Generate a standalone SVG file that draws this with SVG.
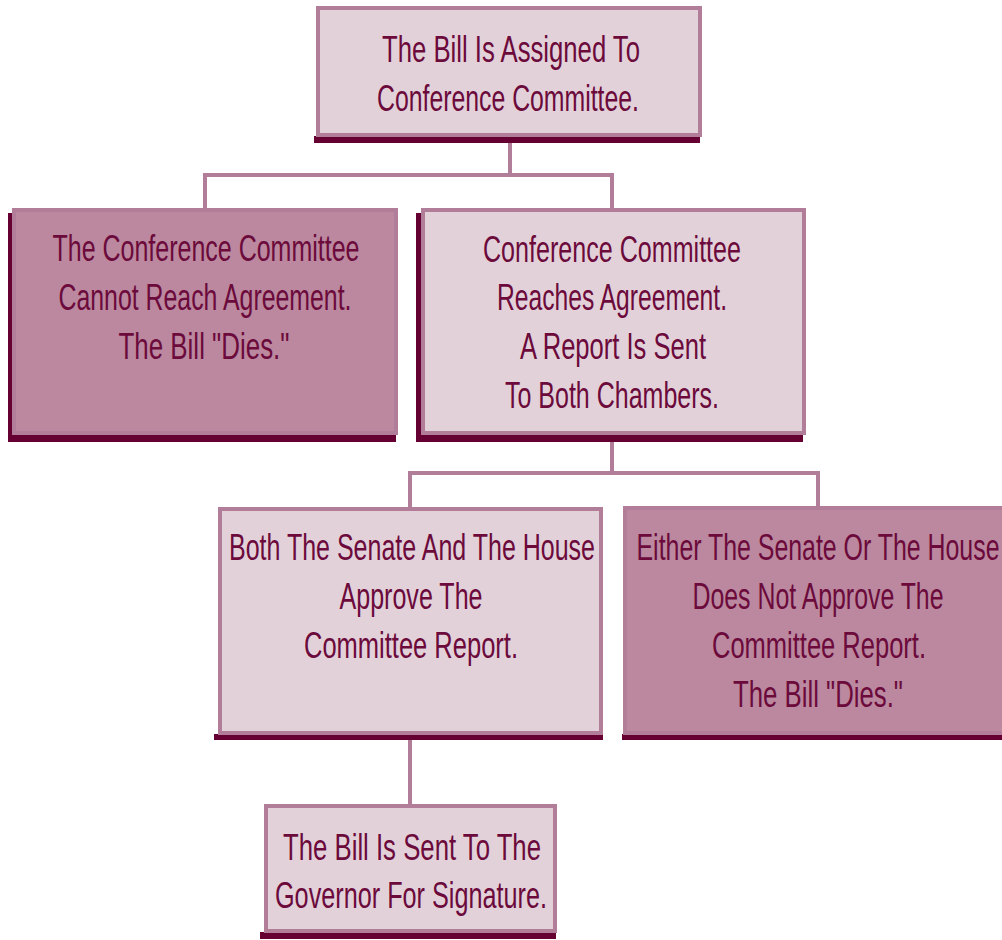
<svg xmlns="http://www.w3.org/2000/svg" width="1002" height="940" viewBox="0 0 1002 940">
<style>
.box-light{fill:#e3d1da;stroke:#b27d98;stroke-width:4}
.box-dark{fill:#bb889f;stroke:#b27d98;stroke-width:4}
.shadow{fill:#660033}
.conn{fill:none;stroke:#b27d98;stroke-width:4}
text{font-family:"Liberation Sans",Arial,sans-serif;font-size:37px;fill:#6b0a3b;text-anchor:middle}
</style>
<rect width="1002" height="940" fill="#ffffff"/>
<g id="connectors">
<path class="conn" d="M510 137 V175 M205 208 V175 H612 V208"/>
<path class="conn" d="M612 437 V473 M410 507 V473 H818 V506"/>
<path class="conn" d="M410 740 V805"/>
</g>
<g id="node-assigned">
<rect class="shadow" x="314" y="136" width="386" height="7"/>
<rect class="box-light" x="318" y="8" width="382" height="127"/>
<text x="511" y="62" textLength="258" lengthAdjust="spacingAndGlyphs">The Bill Is Assigned To</text>
<text x="508" y="111" textLength="262" lengthAdjust="spacingAndGlyphs">Conference Committee.</text>
</g>
<g id="node-no-agreement">
<rect class="shadow" x="8" y="213" width="388" height="229"/>
<rect class="box-dark" x="14" y="210" width="382" height="223"/>
<text x="206" y="261" textLength="307" lengthAdjust="spacingAndGlyphs">The Conference Committee</text>
<text x="205" y="310" textLength="293" lengthAdjust="spacingAndGlyphs">Cannot Reach Agreement.</text>
<text x="204" y="359" textLength="171" lengthAdjust="spacingAndGlyphs">The Bill "Dies."</text>
</g>
<g id="node-agreement">
<rect class="shadow" x="416" y="213" width="387" height="229"/>
<rect class="box-light" x="423" y="210" width="381" height="223"/>
<text x="612" y="262" textLength="258" lengthAdjust="spacingAndGlyphs">Conference Committee</text>
<text x="612" y="310" textLength="230" lengthAdjust="spacingAndGlyphs">Reaches Agreement.</text>
<text x="613" y="359" textLength="186" lengthAdjust="spacingAndGlyphs">A Report Is Sent</text>
<text x="612" y="408" textLength="214" lengthAdjust="spacingAndGlyphs">To Both Chambers.</text>
</g>
<g id="node-both-approve">
<rect class="shadow" x="214" y="734" width="389" height="6"/>
<rect class="box-light" x="220" y="509" width="381" height="224"/>
<text x="412" y="560" textLength="366" lengthAdjust="spacingAndGlyphs">Both The Senate And The House</text>
<text x="411" y="609" textLength="143" lengthAdjust="spacingAndGlyphs">Approve The</text>
<text x="411" y="658" textLength="214" lengthAdjust="spacingAndGlyphs">Committee Report.</text>
</g>
<g id="node-not-approve">
<rect class="shadow" x="622" y="734" width="400" height="6"/>
<rect class="box-dark" x="625" y="508" width="392" height="225"/>
<text x="818" y="560" textLength="363" lengthAdjust="spacingAndGlyphs">Either The Senate Or The House</text>
<text x="818" y="609" textLength="251" lengthAdjust="spacingAndGlyphs">Does Not Approve The</text>
<text x="819" y="658" textLength="214" lengthAdjust="spacingAndGlyphs">Committee Report.</text>
<text x="818" y="707" textLength="170" lengthAdjust="spacingAndGlyphs">The Bill "Dies."</text>
</g>
<g id="node-governor">
<rect class="shadow" x="260" y="932" width="296" height="7"/>
<rect class="box-light" x="266" y="806" width="289" height="125"/>
<text x="412" y="860" textLength="258" lengthAdjust="spacingAndGlyphs">The Bill Is Sent To The</text>
<text x="411" y="908" textLength="272" lengthAdjust="spacingAndGlyphs">Governor For Signature.</text>
</g>
</svg>
